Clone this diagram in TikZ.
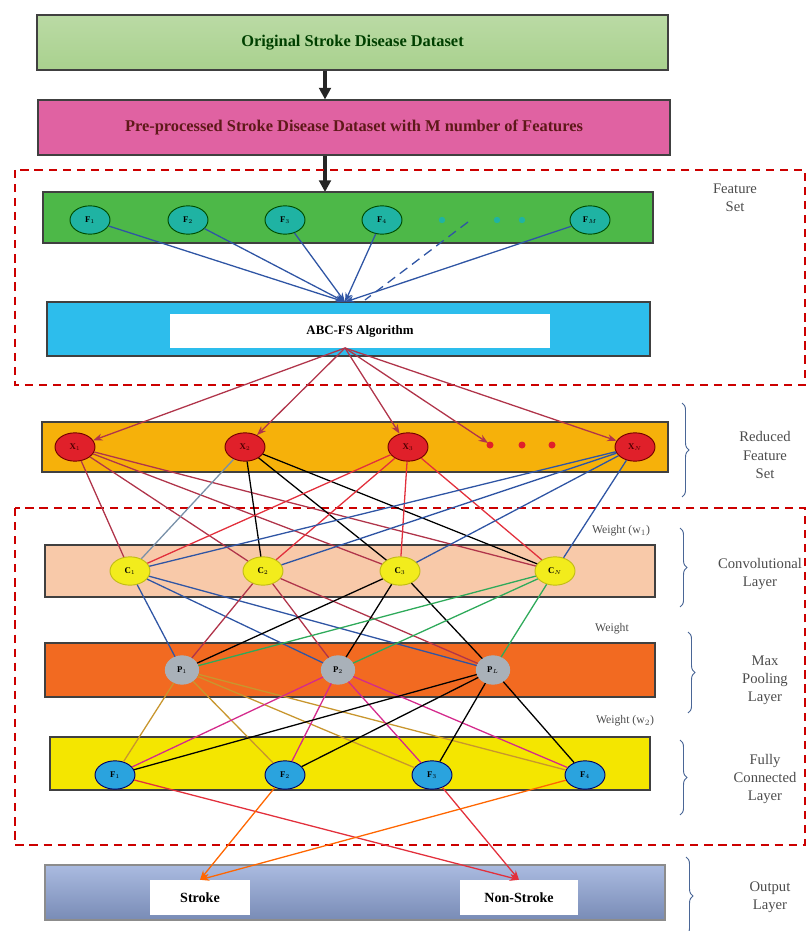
\documentclass[tikz,border=0pt]{standalone}
\usepackage{fontspec}
\setmainfont{Liberation Serif}
\usetikzlibrary{arrows.meta}
\usetikzlibrary{shapes.geometric}
\usetikzlibrary{decorations.pathreplacing}

\definecolor{origgreen}{HTML}{A9D18E}
\definecolor{preppink}{HTML}{E062A2}
\definecolor{fsgreen}{HTML}{4DB848}
\definecolor{abcblue}{HTML}{2DBDEC}
\definecolor{redgold}{HTML}{F6B10A}
\definecolor{convpeach}{HTML}{F8C9A9}
\definecolor{poolorange}{HTML}{F26A21}
\definecolor{fcyellow}{HTML}{F4E600}
\definecolor{outblue}{HTML}{8EA4D6}
\definecolor{featteal}{HTML}{1FB3A3}
\definecolor{xred}{HTML}{E0202A}
\definecolor{cyellow}{HTML}{F2EC1C}
\definecolor{pgray}{HTML}{A9B1B9}
\definecolor{fcblue}{HTML}{2AA3DE}
\definecolor{lnblue}{HTML}{2F55A4}
\definecolor{lnred}{HTML}{E2303C}
\definecolor{lnbrick}{HTML}{B0344A}
\definecolor{lngreen}{HTML}{2EAA5A}
\definecolor{lntan}{HTML}{C8962E}
\definecolor{lnmag}{HTML}{D42A8C}
\definecolor{lnslate}{HTML}{7890A8}
\definecolor{bracec}{HTML}{4A6696}

\tikzset{
  layerbox/.style={draw=black!75, line width=0.9pt, inner sep=0pt, font=\fontsize{14}{16}\selectfont\bfseries},
  whitebox/.style={fill=white, inner sep=0pt, font=\fontsize{11}{13}\selectfont\bfseries},
  unit/.style={ellipse, line width=0.8pt, inner sep=0pt, minimum width=1.2cm, minimum height=0.85cm, font=\fontsize{7.5}{8}\selectfont\bfseries},
  featnode/.style={unit, draw=green!30!black, fill=featteal},
  rednode/.style={unit, draw=red!45!black, fill=xred, text=red!30!black},
  convnode/.style={unit, draw=cyellow!80!black, fill=cyellow},
  poolnode/.style={unit, draw=pgray, fill=pgray, minimum width=1cm},
  fcnode/.style={unit, draw=blue!40!black, fill=fcblue},
  flow/.style={-{Triangle[length=10pt,width=10pt]}, line width=2.6pt, black!85},
  wire/.style={line width=1.1pt},
  sidelabel/.style={align=center, text=black!70, font=\fontsize{12.5}{15.5}\selectfont},
  weightlbl/.style={text=black!70, font=\fontsize{10}{12}\selectfont},
  sidebrace/.style={decorate, decoration={brace, amplitude=6pt}, bracec, line width=0.8pt},
  zone/.style={red!80!black, dashed, dash pattern=on 7pt off 5pt, line width=1pt}
}

\begin{document}
\begin{tikzpicture}[x=0.03cm,y=-0.03cm]
  \useasboundingbox (0,0) rectangle (807,931);

  % dataset boxes
  \node[layerbox, top color=origgreen!80!white, bottom color=origgreen, text=green!25!black,
        minimum width=18.93cm, minimum height=1.65cm] (orig) at (352.5,42.5) {Original Stroke Disease Dataset};
  \node[layerbox, fill=preppink, text=red!30!black!90,
        minimum width=18.96cm, minimum height=1.65cm] (prep) at (354,127.5) {Pre-processed Stroke Disease Dataset with M number of Features};
  \coordinate (spine) at (325,0);
  \draw[flow] (orig.south -| spine) -- (prep.north -| spine);
  \draw[flow] (prep.south -| spine) -- (325,192);

  % feature selection zone
  \draw[zone] (15,170) rectangle (805,385);
  \node[layerbox, fill=fsgreen, minimum width=18.3cm, minimum height=1.53cm] (fset) at (348,217.5) {};
  \node[layerbox, fill=abcblue, minimum width=18.09cm, minimum height=1.62cm] (abc) at (348.5,329) {};
  \node[whitebox, minimum width=11.4cm, minimum height=1.02cm] (abctxt) at (360,331) {ABC-FS Algorithm};
  \node[featnode] (fs1) at (90,220) {F$_1$};
  \node[featnode] (fs2) at (188,220) {F$_2$};
  \node[featnode] (fs3) at (285,220) {F$_3$};
  \node[featnode] (fs4) at (382,220) {F$_4$};
  \node[featnode] (fsm) at (590,220) {F$_M$};
  \fill[featteal] (442,220) circle (3.2) (497,220) circle (3.2) (522,220) circle (3.2);
  \coordinate (fsdash) at (468,222);
  \coordinate (abcin) at (345,302);
  \coordinate (abcout) at (345,348);
  \draw[lnblue, wire, -Stealth] (fs1) -- (abcin);
  \draw[lnblue, wire, -Stealth] (fs2) -- (abcin);
  \draw[lnblue, wire, -Stealth] (fs3) -- (abcin);
  \draw[lnblue, wire, -Stealth] (fs4) -- (abcin);
  \draw[lnblue, wire, -Stealth] (fsm) -- (abcin);
  \draw[lnblue, wire, dashed, dash pattern=on 8pt off 5pt] (fsdash) -- (365,300);
  \node[sidelabel] (fslbl) at (735,198) {Feature\\Set};

  % reduced feature set
  \node[layerbox, fill=redgold, minimum width=18.78cm, minimum height=1.5cm] (rset) at (355,447) {};
  \node[rednode] (x1) at (75,447) {X$_1$};
  \node[rednode] (x2) at (245,447) {X$_2$};
  \node[rednode] (x3) at (408,447) {X$_3$};
  \node[rednode] (xn) at (635,447) {X$_N$};
  \fill[xred] (490,445) circle (3.5) (522,445) circle (3.5) (552,445) circle (3.5);
  \coordinate (xdot) at (488,443);
  \draw[lnbrick, wire, -Stealth] (abcout) -- (x1);
  \draw[lnbrick, wire, -Stealth] (abcout) -- (x2);
  \draw[lnbrick, wire, -Stealth] (abcout) -- (x3);
  \draw[lnbrick, wire, -Stealth] (abcout) -- (xdot);
  \draw[lnbrick, wire, -Stealth] (abcout) -- (xn);
  \draw[sidebrace] (682,403) -- (682,497);
  \node[sidelabel] (rlbl) at (765,455) {Reduced\\Feature\\Set};

  % network zone
  \draw[zone] (15,508) rectangle (805,845);
  \node[layerbox, fill=convpeach, minimum width=18.3cm, minimum height=1.56cm] (conv) at (350,571) {};
  \node[layerbox, fill=poolorange, minimum width=18.3cm, minimum height=1.62cm] (pool) at (350,670) {};
  \node[layerbox, fill=fcyellow, minimum width=18cm, minimum height=1.59cm] (full) at (350,763.5) {};
  \node[convnode] (c1) at (130,571) {C$_1$};
  \node[convnode] (c2) at (263,571) {C$_2$};
  \node[convnode] (c3) at (400,571) {C$_3$};
  \node[convnode] (cn) at (555,571) {C$_N$};
  \node[poolnode] (p1) at (182,670) {P$_1$};
  \node[poolnode] (p2) at (338,670) {P$_2$};
  \node[poolnode] (pl) at (493,670) {P$_L$};
  \node[fcnode] (f1) at (115,775) {F$_1$};
  \node[fcnode] (f2) at (285,775) {F$_2$};
  \node[fcnode] (f3) at (432,775) {F$_3$};
  \node[fcnode] (f4) at (585,775) {F$_4$};

  % reduced features to convolution
  \draw[lnbrick, wire] (x1) -- (c1) (x1) -- (c2) (x1) -- (c3) (x1) -- (cn);
  \draw[lnslate, wire] (x2) -- (c1);
  \draw[black, wire] (x2) -- (c2) (x2) -- (c3) (x2) -- (cn);
  \draw[lnred, wire] (x3) -- (c1) (x3) -- (c2) (x3) -- (c3) (x3) -- (cn);
  \draw[lnblue, wire] (xn) -- (c1) (xn) -- (c2) (xn) -- (c3) (xn) -- (cn);
  % convolution to pooling
  \draw[lnblue, wire] (c1) -- (p1) (c1) -- (p2) (c1) -- (pl);
  \draw[lnbrick, wire] (c2) -- (p1) (c2) -- (p2) (c2) -- (pl);
  \draw[black, wire] (c3) -- (p1) (c3) -- (p2) (c3) -- (pl);
  \draw[lngreen, wire] (cn) -- (p1) (cn) -- (p2) (cn) -- (pl);
  % pooling to fully connected
  \draw[lntan, wire] (p1) -- (f1) (p1) -- (f2) (p1) -- (f3) (p1) -- (f4);
  \draw[lnmag, wire] (p2) -- (f1) (p2) -- (f2) (p2) -- (f3) (p2) -- (f4);
  \draw[black, wire] (pl) -- (f1) (pl) -- (f2) (pl) -- (f3) (pl) -- (f4);

  \node[weightlbl] (w1lbl) at (621,531) {Weight (w$_1$)};
  \node[weightlbl] (wlbl) at (612,629) {Weight};
  \node[weightlbl] (w2lbl) at (625,721) {Weight (w$_2$)};
  \draw[sidebrace] (680,528) -- (680,607);
  \node[sidelabel] (clbl) at (760,574) {Convolutional\\Layer};
  \draw[sidebrace] (688,632) -- (688,713);
  \node[sidelabel] (plbl) at (765,680) {Max\\Pooling\\Layer};
  \draw[sidebrace] (680,740) -- (680,815);
  \node[sidelabel] (flbl) at (765,779) {Fully\\Connected\\Layer};

  % output layer
  \node[layerbox, draw=black!45, top color=outblue!75!white, bottom color=outblue!85!black,
        minimum width=18.6cm, minimum height=1.65cm] (outl) at (355,892.5) {};
  \node[whitebox, font=\fontsize{12}{14}\selectfont\bfseries, minimum width=3cm, minimum height=1.05cm] (stroke) at (200,897.5) {Stroke};
  \node[whitebox, font=\fontsize{12}{14}\selectfont\bfseries, minimum width=3.54cm, minimum height=1.05cm] (nonstroke) at (519,897.5) {Non-Stroke};
  \draw[lnred, wire, -Stealth] (f1) -- (nonstroke.north);
  \draw[orange!80!red, wire, -Stealth] (f2) -- (stroke.north);
  \draw[lnred, wire, -Stealth] (f3) -- (nonstroke.north);
  \draw[orange!80!red, wire, -Stealth] (f4) -- (stroke.north);
  \draw[sidebrace] (686,857) -- (686,935);
  \node[sidelabel] (olbl) at (770,897) {Output\\Layer};
\end{tikzpicture}
\end{document}
